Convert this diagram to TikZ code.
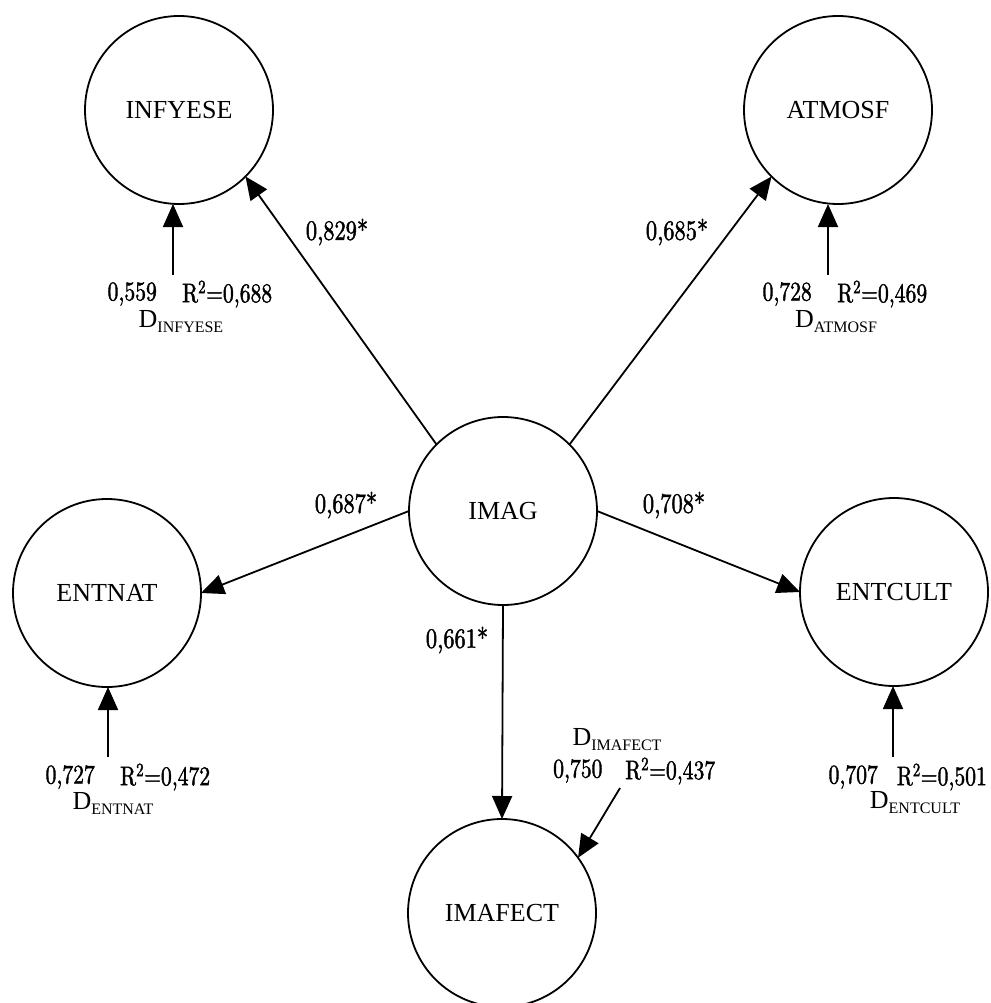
\documentclass[tikz,border=0pt]{standalone}
\usepackage{fontspec}
\setmainfont{Liberation Serif}
\newfontfamily\numfont{lmroman10-regular}[Extension=.otf, FakeStretch=0.8, FakeBold=1.5]
\usetikzlibrary{arrows.meta}
\begin{document}
\begin{tikzpicture}[x=1pt,y=-1pt,
  latent/.style={circle, draw, line width=1.8pt, minimum size=188pt,
    inner sep=0pt, outer sep=0pt, font=\fontsize{26}{30}\selectfont},
  link/.style={line width=1.8pt, -{Triangle[length=23pt,width=20pt]}},
  coef/.style={font=\numfont\fontsize{28}{30}\selectfont, inner sep=0pt},
  dcoef/.style={font=\numfont\fontsize{27}{30}\selectfont, inner sep=0pt},
  dlab/.style={font=\fontsize{26}{30}\selectfont, inner sep=0pt}]
\newcommand{\dsub}[1]{D\raisebox{-5pt}{\fontsize{16}{18}\selectfont #1}}
\newcommand{\rsq}[1]{R\textsuperscript{2}=#1}
\useasboundingbox (0,0) rectangle (990,1003);

% latent constructs
\node[latent] (IMAG)    at (503,511) {IMAG};
\node[latent] (INFYESE) at (179,110) {INFYESE};
\node[latent] (ATMOSF)  at (838,110) {ATMOSF};
\node[latent] (ENTNAT)  at (107,593) {ENTNAT};
\node[latent] (ENTCULT) at (894,592) {ENTCULT};
\node[latent] (IMAFECT) at (502,913) {IMAFECT};

% structural paths
\draw[link] (IMAG.north west) -- (INFYESE.south east);
\draw[link] (IMAG.north east) -- (ATMOSF.south west);
\draw[link] (IMAG.west) -- (ENTNAT.east);
\draw[link] (IMAG.east) -- (ENTCULT.west);
\draw[link] (IMAG.south) -- (IMAFECT.north);

% path coefficients
\node[coef] (cINF) at (337,232) {0,829*};
\node[coef] (cATM) at (677,232) {0,685*};
\node[coef] (cNAT) at (346,505) {0,687*};
\node[coef] (cCUL) at (674,505) {0,708*};
\node[coef] (cAFE) at (457,640) {0,661*};

% disturbance terms
\coordinate (dINF) at (173,275);
\coordinate (dATM) at (828,275);
\coordinate (dNAT) at (108,757);
\coordinate (dCUL) at (893,757);
\coordinate (dAFE) at (620,788);
\draw[link] (dINF) -- (dINF |- INFYESE.south);
\draw[link] (dATM) -- (dATM |- ATMOSF.south);
\draw[link] (dNAT) -- (dNAT |- ENTNAT.south);
\draw[link] (dCUL) -- (dCUL |- ENTCULT.south);
\draw[link] (dAFE) -- (IMAFECT.36);

\node[dcoef, anchor=east] (wINF) at (157,294) {0,559};
\node[dcoef, anchor=west] (rINF) at (182,294) {\rsq{0,688}};
\node[dlab] (DINF) at (181,322) {\dsub{INFYESE}};

\node[dcoef, anchor=east] (wATM) at (812,294) {0,728};
\node[dcoef, anchor=west] (rATM) at (837,294) {\rsq{0,469}};
\node[dlab] (DATM) at (836,322) {\dsub{ATMOSF}};

\node[dcoef, anchor=east] (wNAT) at (95,777) {0,727};
\node[dcoef, anchor=west] (rNAT) at (120,777) {\rsq{0,472}};
\node[dlab] (DNAT) at (113,803) {\dsub{ENTNAT}};

\node[dcoef, anchor=east] (wCUL) at (878,777) {0,707};
\node[dcoef, anchor=east] (rCUL) at (987,777) {\rsq{0,501}};
\node[dlab] (DCUL) at (915,803) {\dsub{ENTCULT}};

\node[dlab] (DAFE) at (617,740) {\dsub{IMAFECT}};
\node[dcoef, anchor=west] (wAFE) at (553,771) {0,750};
\node[dcoef, anchor=west] (rAFE) at (625,771) {\rsq{0,437}};
\end{tikzpicture}
\end{document}
